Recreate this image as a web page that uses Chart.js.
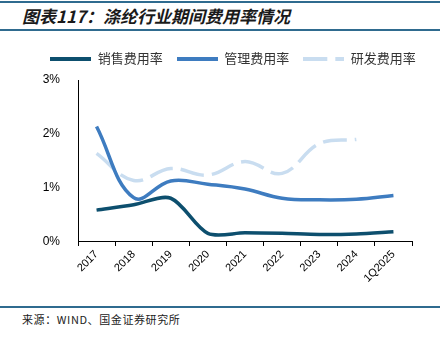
<!DOCTYPE html>
<html>
<head>
<meta charset="utf-8">
<script src="https://cdn.jsdelivr.net/npm/chart.js@4"></script>
<style>
  html, body { margin: 0; padding: 0; background: #fff; }
  body { width: 440px; height: 338px; position: relative; overflow: hidden; }
  .title {
    position: absolute; left: 0; top: 1px; width: 440px; height: 26px;
    border-top: 2px solid #2f6b8f; border-bottom: 2px solid #2f6b8f;
    font-family: "Noto Sans CJK SC", sans-serif; font-weight: bold; font-style: italic;
    font-size: 17px; line-height: 26px; color: #1a1a1a; padding-left: 22px; box-sizing: content-box;
  }
  .chart-box { position: absolute; left: 0; top: 34px; width: 440px; height: 253px; }
  .source {
    position: absolute; left: 0; top: 306px; width: 440px;
    border-top: 2px solid #2f6b8f;
    font-family: "Noto Sans CJK SC", sans-serif; font-size: 11px; color: #222;
    padding-left: 22px; padding-top: 3px; letter-spacing: 0.6px;
  }
</style>
</head>
<body>
<div class="title">图表117：涤纶行业期间费用率情况</div>
<div class="chart-box"><canvas id="chart"></canvas></div>
<div class="source">来源：WIND、国金证券研究所</div>
<script>
// categories and series (%)
const years = ['2017', '2018', '2019', '2020', '2021', '2022', '2023', '2024', '1Q2025'];
const salesRate = [0.59, 0.69, 0.81, 0.16, 0.17, 0.16, 0.14, 0.15, 0.19];
const adminRate = [2.14, 0.82, 1.13, 1.07, 0.98, 0.81, 0.78, 0.79, 0.86];
const rdRate = [1.64, 1.14, 1.36, 1.24, 1.49, 1.27, 1.82, 1.90, null];
const seriesNames = ['销售费用率', '管理费用率', '研发费用率'];
const yTicks = [0, 1, 2, 3];

const colors = ['#0d4f6e', '#3e7cc0', '#c9ddf0'];
const dashes = [[], [], [24, 8]];

// small line swatches for the legend
function makeSwatch(color, dash) {
  const c = document.createElement('canvas');
  c.width = 41;
  c.height = 4;
  const g = c.getContext('2d');
  g.strokeStyle = color;
  g.lineWidth = 4;
  g.setLineDash(dash);
  g.beginPath();
  g.moveTo(0, 2);
  g.lineTo(41, 2);
  g.stroke();
  return c;
}
const swatches = colors.map((c, i) => makeSwatch(c, dashes[i]));

const makeDataset = (label, data, i) => ({
  label: label,
  data: data,
  borderColor: colors[i],
  backgroundColor: colors[i],
  borderWidth: 3.5,
  borderDash: dashes[i],
  pointRadius: 0,
  tension: 0.4,
  spanGaps: false
});

// extra space under the legend
const legendGap = {
  id: 'legendGap',
  afterInit(chart) {
    const fit = chart.legend.fit;
    chart.legend.fit = function () {
      fit.call(this);
      this.height += 5;
    };
  }
};

const salesSet = makeDataset(seriesNames[0], salesRate, 0);
salesSet.tension = 0.3;  // less overshoot after the 2020 drop

new Chart(document.getElementById('chart'), {
  type: 'line',
  data: {
    labels: years,
    datasets: [
      salesSet,
      makeDataset(seriesNames[1], adminRate, 1),
      makeDataset(seriesNames[2], rdRate, 2)
    ]
  },
  plugins: [legendGap],
  options: {
    responsive: true,
    maintainAspectRatio: false,
    animation: false,
    layout: { padding: { top: 4, left: 34, right: 8, bottom: 0 } },
    plugins: {
      tooltip: { enabled: false },
      legend: {
        position: 'top',
        labels: {
          usePointStyle: true,
          pointStyleWidth: 41,
          padding: 14,
          color: '#333',
          font: { family: "'Noto Sans CJK SC', sans-serif", size: 13 },
          generateLabels(chart) {
            const items = Chart.defaults.plugins.legend.labels.generateLabels(chart);
            items.forEach((it, i) => { it.pointStyle = swatches[i]; });
            return items;
          }
        }
      }
    },
    scales: {
      x: {
        offset: true,
        grid: { display: true, offset: true, drawOnChartArea: false, tickLength: 4, color: '#000' },
        border: { display: true, color: '#000', width: 1 },
        ticks: {
          color: '#000',
          minRotation: 45,
          maxRotation: 45,
          padding: 2,
          font: { family: "'Liberation Sans', Arial, sans-serif", size: 11 }
        }
      },
      y: {
        min: 0,
        max: 3,
        afterBuildTicks(axis) { axis.ticks = yTicks.map(v => ({ value: v })); },
        afterFit(axis) { axis.width = 44; },
        grid: { display: false },
        border: { display: true, color: '#000', width: 1 },
        ticks: {
          color: '#000',
          padding: 10,
          font: { family: "'Liberation Sans', Arial, sans-serif", size: 12 },
          callback: v => v + '%'
        }
      },
      // empty right axis, only keeps the plot clear of the right edge
      y2: {
        position: 'right',
        grid: { display: false },
        border: { display: false },
        ticks: { display: false },
        afterFit(axis) { axis.width = 20; }
      }
    }
  }
});
</script>
</body>
</html>
